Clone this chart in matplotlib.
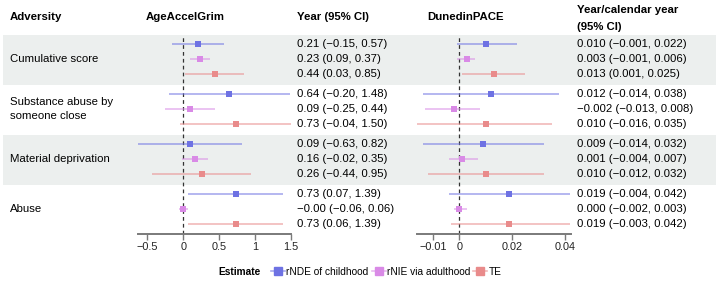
import matplotlib.pyplot as plt
from matplotlib.lines import Line2D

plt.rcParams['font.family'] = ['Liberation Sans', 'DejaVu Sans']

# data
adversities = ['Cumulative score', 'Substance abuse by\nsomeone close',
               'Material deprivation', 'Abuse']
estimates = ['rNDE of childhood', 'rNIE via adulthood', 'TE']
colors = ['#6e72e3', '#d98ae6', '#e98b8b']

grim_est = [[0.21, 0.23, 0.44], [0.64, 0.09, 0.73],
            [0.09, 0.16, 0.26], [0.73, -0.0, 0.73]]
grim_lo = [[-0.15, 0.09, 0.03], [-0.20, -0.25, -0.04],
           [-0.63, -0.02, -0.44], [0.07, -0.06, 0.06]]
grim_hi = [[0.57, 0.37, 0.85], [1.48, 0.44, 1.50],
           [0.82, 0.35, 0.95], [1.39, 0.06, 1.39]]

pace_est = [[0.010, 0.003, 0.013], [0.012, -0.002, 0.010],
            [0.009, 0.001, 0.010], [0.019, 0.0, 0.019]]
pace_lo = [[-0.001, -0.001, 0.001], [-0.014, -0.013, -0.016],
           [-0.014, -0.004, -0.012], [-0.004, -0.002, -0.003]]
pace_hi = [[0.022, 0.006, 0.025], [0.038, 0.008, 0.035],
           [0.032, 0.007, 0.032], [0.042, 0.003, 0.042]]

grim_ticks = [-0.5, 0, 0.5, 1, 1.5]
pace_ticks = [-0.01, 0, 0.02, 0.04]

W, H = 720, 284
FS = 8.2
TOP, BOT = 35, 234          # pixel rows of the table body
GROUP_H, ROW_H = 50, 15


def row_y(g, k):
    return TOP + 9 + GROUP_H * g + ROW_H * k


def fmt(v, d):
    return f'{v:.{d}f}'.replace('-', '\u2212')


fig = plt.figure(figsize=(W / 100, H / 100), dpi=100)

# background axes in pixel coordinates
bg = fig.add_axes([0, 0, 1, 1])
bg.set_xlim(0, W)
bg.set_ylim(H, 0)
bg.axis('off')
for g in range(len(adversities)):
    if g % 2 == 0:
        bg.fill_between([3, 716], TOP + GROUP_H * g, TOP + GROUP_H * (g + 1),
                        color='#ecefee', lw=0, zorder=0)

# headers
bg.text(10, 17, 'Adversity', fontsize=FS, fontweight='bold', va='center')
bg.text(185, 17, 'AgeAccelGrim', fontsize=FS, fontweight='bold',
        va='center', ha='center')
bg.text(297, 17, 'Year (95% CI)', fontsize=FS, fontweight='bold', va='center')
bg.text(466, 17, 'DunedinPACE', fontsize=FS, fontweight='bold',
        va='center', ha='center')
bg.text(577, 10, 'Year/calendar year', fontsize=FS, fontweight='bold',
        va='center')
bg.text(577, 27, '(95% CI)', fontsize=FS, fontweight='bold', va='center')

for g, name in enumerate(adversities):
    bg.text(10, row_y(g, 1), name, fontsize=FS, va='center',
            linespacing=1.45)
    for k in range(3):
        s1 = f'{fmt(grim_est[g][k], 2)} ({fmt(grim_lo[g][k], 2)}, {fmt(grim_hi[g][k], 2)})'
        s2 = f'{fmt(pace_est[g][k], 3)} ({fmt(pace_lo[g][k], 3)}, {fmt(pace_hi[g][k], 3)})'
        bg.text(297, row_y(g, k), s1, fontsize=FS, va='center')
        bg.text(577, row_y(g, k), s2, fontsize=FS, va='center')


def forest(x0, x1, est, lo, hi, xlim, ticks, labels):
    ax = fig.add_axes([x0 / W, 1 - BOT / H, (x1 - x0) / W, (BOT - TOP) / H])
    ax.set_facecolor('none')
    ax.set_xlim(*xlim)
    ax.set_ylim(BOT, TOP)
    for g in range(len(est)):
        for k in range(3):
            y = row_y(g, k)
            ax.plot([lo[g][k], hi[g][k]], [y, y], color=colors[k],
                    alpha=0.6, lw=1.2, solid_capstyle='butt')
            ax.plot(est[g][k], y, 's', color=colors[k], ms=4.2, mew=0)
    ax.axvline(0, color='#333333', ls=(0, (3, 2.5)), lw=0.9, zorder=0)
    for sp in ['top', 'right', 'left']:
        ax.spines[sp].set_visible(False)
    ax.spines['bottom'].set_color('#7a7a7a')
    ax.spines['bottom'].set_linewidth(1.4)
    ax.set_yticks([])
    ax.set_xticks(ticks)
    ax.set_xticklabels(labels, fontsize=7.8, color='#222222')
    ax.tick_params(axis='x', length=4, width=1, color='#7a7a7a', pad=2)
    return ax


forest(138, 291, grim_est, grim_lo, grim_hi, (-0.63, 1.50), grim_ticks,
       ['\u22120.5', '0', '0.5', '1', '1.5'])
forest(417, 571, pace_est, pace_lo, pace_hi, (-0.0161, 0.0424), pace_ticks,
       ['\u22120.01', '0', '0.02', '0.04'])

# legend
LFS = 7.3
bg.text(218, 272, 'Estimate', fontsize=LFS, fontweight='bold', va='center')
handles = []
for c in colors:
    handles.append((Line2D([], [], color=c, alpha=0.6, lw=1.2),
                    Line2D([], [], color=c, marker='s', ms=5.5, lw=0)))
fig.legend(handles, estimates, loc='center left',
           bbox_to_anchor=(271 / W, 1 - 272 / H), ncol=3, frameon=False,
           fontsize=LFS, handlelength=1.4, handletextpad=0.1,
           columnspacing=0.3, borderpad=0, borderaxespad=0)

fig.savefig('out.png', dpi=100)
